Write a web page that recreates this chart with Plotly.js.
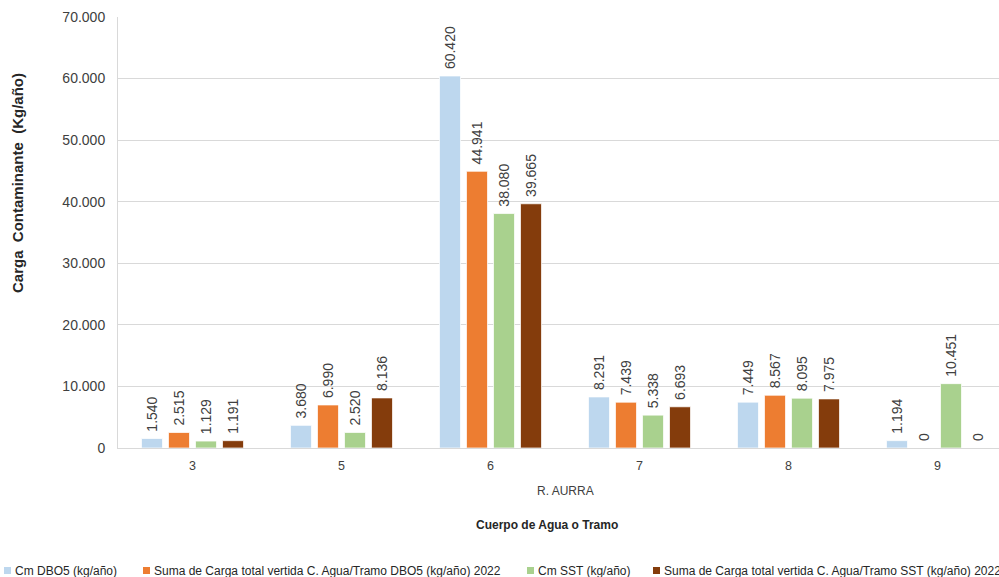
<!DOCTYPE html>
<html>
<head>
<meta charset="utf-8">
<script src="https://cdn.plot.ly/plotly-3.0.1.min.js"></script>
<style>html,body{margin:0;padding:0;background:#fff;}#chart{width:999px;height:577px;}</style>
</head>
<body>
<div id="chart"></div>
<script>
// ---- data ----
const categories = ['3', '5', '6', '7', '8', '9'];
const groupLabel = 'R. AURRA';
const seriesNames = [
  'Cm DBO5 (kg/año)',
  'Suma de Carga total vertida C. Agua/Tramo DBO5 (kg/año) 2022',
  'Cm SST (kg/año)',
  'Suma de Carga total vertida C. Agua/Tramo SST (kg/año) 2022'
];
const cmDBO5   = [1540, 3680, 60420, 8291, 7449, 1194];
const sumaDBO5 = [2515, 6990, 44941, 7439, 8567, 0];
const cmSST    = [1129, 2520, 38080, 5338, 8095, 10451];
const sumaSST  = [1191, 8136, 39665, 6693, 7975, 0];
const yTitle = 'Carga Contaminante (Kg/año)';
const xTitle = 'Cuerpo de Agua o Tramo';

// ---- styling ----
const colors = ['#BDD7EE', '#ED7D31', '#A9D18E', '#843C0C'];
const FONT = '"Liberation Sans", Arial, sans-serif';
const W = 999, H = 577;
const M = {l: 118, r: 0, t: 17, b: 129};
const plotW = W - M.l - M.r, plotH = H - M.t - M.b;
const px2x = p => (p - M.l) / plotW;
const py2y = p => (H - M.b - p) / plotH;

const allSeries = [cmDBO5, sumaDBO5, cmSST, sumaSST];
const traces = allSeries.map((vals, i) => ({
  type: 'bar',
  name: seriesNames[i],
  x: categories,
  y: vals,
  marker: {color: colors[i], line: {color: 'rgba(255,255,255,0.9)', width: 0.8}},
  texttemplate: '\u00A0%{y:,.0f}',
  textposition: 'outside',
  textangle: -90,
  constraintext: 'none',
  cliponaxis: false,
  textfont: {family: FONT, size: 14, color: '#404040'},
  hoverinfo: 'skip'
}));

const annotations = [
  {text: groupLabel, xref: 'x', yref: 'paper', x: 2.5, y: py2y(491), xanchor: 'center', yanchor: 'middle',
   showarrow: false, font: {family: FONT, size: 12, color: '#404040'}},
  {text: '<b>' + xTitle + '</b>', xref: 'paper', yref: 'paper', x: px2x(547), y: py2y(525), xanchor: 'center', yanchor: 'middle',
   showarrow: false, font: {family: FONT, size: 12, color: '#262626'}},
  {text: '<b>' + yTitle.split(' ').join(' \u00A0') + '</b>', xref: 'paper', yref: 'paper', x: px2x(18), y: py2y(183), xanchor: 'center', yanchor: 'middle',
   textangle: -90, showarrow: false, font: {family: FONT, size: 15, color: '#262626'}}
];

// manual legend
const legendSquares = [4, 143, 527, 653];
const shapes = [];
seriesNames.forEach((n, i) => {
  const sx = legendSquares[i];
  shapes.push({type: 'rect', xref: 'paper', yref: 'paper',
    x0: px2x(sx), x1: px2x(sx + 7), y0: py2y(574), y1: py2y(567),
    fillcolor: colors[i], line: {width: 0}});
  annotations.push({text: n, xref: 'paper', yref: 'paper', x: px2x(sx + 9), y: py2y(570.5),
    xanchor: 'left', yanchor: 'middle', showarrow: false,
    font: {family: FONT, size: 12, color: '#262626'}});
});

const unit = plotW / 149; // category units visible
const layout = {
  width: W, height: H,
  margin: M,
  paper_bgcolor: '#fff', plot_bgcolor: '#fff',
  separators: ',.',
  showlegend: false,
  barmode: 'group',
  bargap: 0.275,
  bargroupgap: 0.222,
  font: {family: FONT, color: '#404040'},
  xaxis: {
    type: 'category',
    range: [-0.5, -0.5 + unit],
    showline: true, linecolor: '#d9d9d9', linewidth: 1,
    showgrid: false, zeroline: false, ticks: '',
    tickfont: {family: FONT, size: 12.5, color: '#404040'},
    ticklabelstandoff: 6
  },
  yaxis: {
    range: [0, 70000], dtick: 10000, tickformat: ',.0f',
    showline: true, linecolor: '#d9d9d9', linewidth: 1,
    showgrid: true, gridcolor: '#d9d9d9', gridwidth: 1,
    zeroline: false, ticks: '',
    tickfont: {family: FONT, size: 14, color: '#404040'},
    ticklabelstandoff: 9
  },
  annotations: annotations,
  shapes: shapes
};

Plotly.newPlot('chart', traces, layout, {displayModeBar: false, staticPlot: true});
</script>
</body>
</html>
